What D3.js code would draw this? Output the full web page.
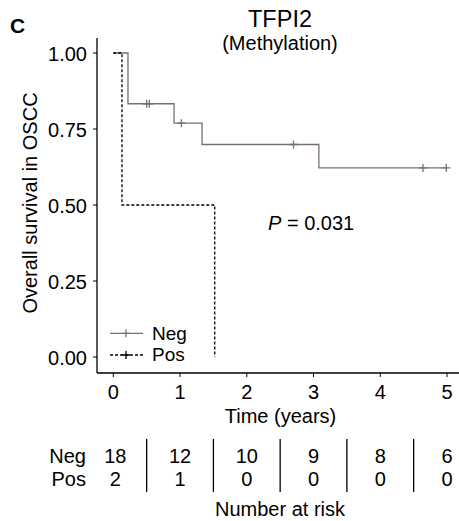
<!DOCTYPE html>
<html>
<head>
<meta charset="utf-8">
<script src="https://cdn.jsdelivr.net/npm/d3@7"></script>
<style>
  body { margin: 0; background: #fff; }
  text { font-family: "Liberation Sans", Arial, sans-serif; fill: #000; }
</style>
</head>
<body>
<div id="vis"></div>
<script>
// KM steps (time in years, survival)
var negTimes = [0, 0.22, 0.91, 1.33, 3.08];
var negSurv = [1, 0.833, 0.769, 0.699, 0.622];
var negEnd = 5.0;
var negCensor = [0.5, 0.54, 1.02, 2.7, 4.64, 4.99];

var posTimes = [0, 0.13, 1.52];
var posSurv = [1, 0.5, 0];
var posEnd = 1.52;

var xTicks = [0, 1, 2, 3, 4, 5];
var yTicks = [0, 0.25, 0.5, 0.75, 1];

var riskGroups = ["Neg", "Pos"];
var riskNeg = [18, 12, 10, 9, 8, 6];
var riskPos = [2, 1, 0, 0, 0, 0];

var negColor = "#7b6f6e";
var fs = 20;

var svg = d3.select("#vis").append("svg")
  .attr("width", 459)
  .attr("height", 521);

var x = d3.scaleLinear().domain([0, 5]).range([113.3, 447]);
var y = d3.scaleLinear().domain([0, 1]).range([357, 53]);

// step path from times/survival
function stepPoints(times, surv, end) {
  var pts = [];
  for (var i = 0; i < times.length; i++) {
    if (i > 0) pts.push([times[i], surv[i - 1]]);
    pts.push([times[i], surv[i]]);
  }
  pts.push([end, surv[surv.length - 1]]);
  return pts;
}
function survAt(times, surv, t) {
  var s = surv[0];
  for (var i = 0; i < times.length; i++) if (times[i] <= t) s = surv[i];
  return s;
}

var line = d3.line().x(function(d) { return x(d[0]); }).y(function(d) { return y(d[1]); });

// axes
svg.append("line").attr("x1", 97).attr("x2", 97).attr("y1", 38).attr("y2", 373)
  .attr("stroke", "#000").attr("stroke-width", 1.3);
svg.append("line").attr("x1", 97).attr("x2", 459).attr("y1", 373).attr("y2", 373)
  .attr("stroke", "#000").attr("stroke-width", 1.3);

svg.selectAll(".ytick").data(yTicks).enter().append("line")
  .attr("x1", 93).attr("x2", 97)
  .attr("y1", function(d) { return y(d); }).attr("y2", function(d) { return y(d); })
  .attr("stroke", "#000");
svg.selectAll(".ylab").data(yTicks).enter().append("text")
  .attr("x", 87).attr("y", function(d) { return y(d) + 7.5; })
  .attr("text-anchor", "end").attr("font-size", fs)
  .text(function(d) { return d3.format(".2f")(d); });

svg.selectAll(".xtick").data(xTicks).enter().append("line")
  .attr("x1", function(d) { return x(d); }).attr("x2", function(d) { return x(d); })
  .attr("y1", 373).attr("y2", 377).attr("stroke", "#000");
svg.selectAll(".xlab").data(xTicks).enter().append("text")
  .attr("x", function(d) { return x(d); }).attr("y", 398.5)
  .attr("text-anchor", "middle").attr("font-size", fs)
  .text(function(d) { return d; });

svg.append("text").attr("x", 280.5).attr("y", 423).attr("text-anchor", "middle")
  .attr("font-size", fs).text("Time (years)");

svg.append("text").attr("transform", "translate(37,203) rotate(-90)")
  .attr("text-anchor", "middle").attr("font-size", fs).text("Overall survival in OSCC");

// curves
svg.append("path").datum(stepPoints(negTimes, negSurv, negEnd)).attr("d", line)
  .attr("fill", "none").attr("stroke", negColor).attr("stroke-width", 1.3);
svg.append("path").datum(stepPoints(posTimes, posSurv, posEnd)).attr("d", line)
  .attr("fill", "none").attr("stroke", "#000").attr("stroke-width", 1.3)
  .attr("stroke-dasharray", "3,2");

svg.selectAll(".cens").data(negCensor).enter().append("path")
  .attr("transform", function(d) { return "translate(" + x(d) + "," + y(survAt(negTimes, negSurv, d)) + ")"; })
  .attr("d", "M-4,0H4M0,-4V4")
  .attr("stroke", negColor).attr("stroke-width", 1.3);

// legend
var legend = svg.selectAll(".leg").data(riskGroups).enter().append("g")
  .attr("transform", function(d, i) { return "translate(110," + (333.3 + i * 21.7) + ")"; });
legend.append("line").attr("x1", 0).attr("x2", 33)
  .attr("stroke", function(d, i) { return i ? "#000" : negColor; })
  .attr("stroke-width", 1.3)
  .attr("stroke-dasharray", function(d, i) { return i ? "3,2" : null; });
legend.append("path").attr("d", "M16,-4V4M12,0H20")
  .attr("stroke", function(d, i) { return i ? "#000" : negColor; }).attr("stroke-width", 1.3);
legend.append("text").attr("x", 42).attr("y", 6.3).attr("font-size", 19)
  .text(function(d) { return d; });

// title, P value, panel letter
svg.append("text").attr("x", 10).attr("y", 33).attr("font-size", 21).attr("font-weight", "bold").text("C");
svg.append("text").attr("x", 280).attr("y", 27).attr("text-anchor", "middle").attr("font-size", 23.5).text("TFPI2");
svg.append("text").attr("x", 280).attr("y", 50).attr("text-anchor", "middle").attr("font-size", fs).text("(Methylation)");
var ptxt = svg.append("text").attr("x", 268).attr("y", 230).attr("font-size", fs);
ptxt.append("tspan").attr("font-style", "italic").text("P");
ptxt.append("tspan").text(" = 0.031");

// number at risk table
var rows = [riskNeg, riskPos];
rows.forEach(function(r, i) {
  var ry = 463 + i * 23;
  svg.append("text").attr("x", 86).attr("y", ry).attr("text-anchor", "end")
    .attr("font-size", fs).text(riskGroups[i]);
  svg.selectAll(".risk" + i).data(r).enter().append("text")
    .attr("x", function(d, j) { return x(xTicks[j]) + (j === 0 ? 2 : 0); })
    .attr("y", ry).attr("text-anchor", "middle").attr("font-size", fs)
    .text(function(d) { return d; });
});
svg.selectAll(".sep").data(xTicks.slice(1)).enter().append("line")
  .attr("x1", function(d) { return x(d - 0.5); }).attr("x2", function(d) { return x(d - 0.5); })
  .attr("y1", 439).attr("y2", 492).attr("stroke", "#000").attr("stroke-width", 1.3);
svg.append("text").attr("x", 280).attr("y", 516).attr("text-anchor", "middle")
  .attr("font-size", fs).text("Number at risk");
</script>
</body>
</html>
